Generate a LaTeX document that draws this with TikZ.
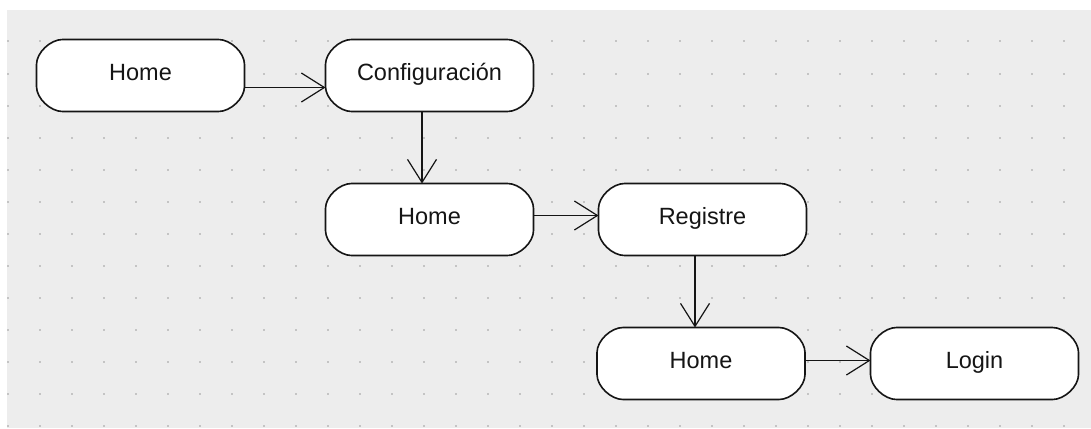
\documentclass[tikz,border=0pt]{standalone}
\usepackage{fontspec}
\setmainfont{Liberation Sans}
\usetikzlibrary{arrows.meta}
\definecolor{canvas}{HTML}{EDEDED}
\definecolor{griddot}{HTML}{C4C4C4}
\definecolor{ink}{HTML}{151515}
\tikzset{
  outline/.style={draw=ink, line width=1.6pt, fill=white},
  state/.style={rectangle, minimum width=208pt, minimum height=72pt,
    inner sep=0pt, outer sep=0pt, text height=14pt, text depth=5pt, text=ink,
    font=\fontsize{23.5}{28}\selectfont},
  flow/.style={draw=ink, line width=1.2pt,
    -{Straight Barb[length=23pt, width=29pt, line width=1.2pt]}},
}
% pill outline with soft corners around a centre point
\newcommand\pillat[1]{%
  \path[outline, shift={(#1)}]
    (-78,-36) -- (78,-36) .. controls (90,-36) and (104,-23) .. (104,-11)
    -- (104,11) .. controls (104,23) and (90,36) .. (78,36)
    -- (-78,36) .. controls (-90,36) and (-104,23) .. (-104,11)
    -- (-104,-11) .. controls (-104,-23) and (-90,-36) .. (-78,-36) -- cycle;}
\begin{document}
\begin{tikzpicture}[x=1pt, y=-1pt]
  \useasboundingbox (0,0) rectangle (1091,428);
  % canvas with dotted grid
  \fill[white] (0,0) rectangle (1091,428);
  \fill[canvas] (7,10.5) rectangle (1091,428);
  \foreach \i in {0,...,33}
    \foreach \j in {0,...,12}
      \fill[griddot] ({7+32*\i},{40.5+32*\j}) rectangle +(2,2);

  % state positions
  \coordinate (c1) at (140.5,75.5);
  \coordinate (c2) at (429.5,75.5);
  \coordinate (c3) at (429.5,219.5);
  \coordinate (c4) at (702.5,219.5);
  \coordinate (c5) at (701,363.5);
  \coordinate (c6) at (974.5,363.5);
  \foreach \c in {c1,c2,c3,c4,c5,c6} \pillat{\c};

  % states
  \node[state] (home1) at (c1) {Home};
  \node[state] (config) at (c2) {Configuración};
  \node[state] (home2) at (c3) {Home};
  \node[state] (reg) at (c4) {Registre};
  \node[state] (home3) at (c5) {Home};
  \node[state] (login) at (c6) {Login};

  % transitions
  \draw[flow] ([yshift=-12pt]home1.east) -- ([yshift=-12pt]config.west);
  \draw[flow] ([xshift=-7.5pt]config.south) -- ([xshift=-7.5pt]config.south |- home2.north);
  \draw[flow] ([yshift=4pt]home2.east) -- ([yshift=4pt]reg.west);
  \draw[flow] ([xshift=-7.5pt]reg.south) -- ([xshift=-7.5pt]reg.south |- home3.north);
  \draw[flow] ([yshift=3pt]home3.east) -- ([yshift=3pt]login.west);
\end{tikzpicture}
\end{document}
